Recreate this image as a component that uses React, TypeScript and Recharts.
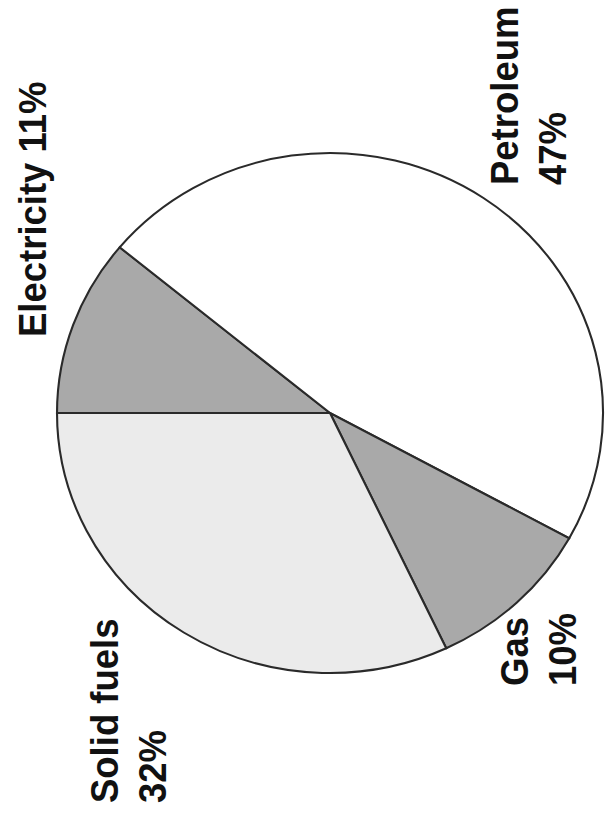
import React from "react";
import { PieChart, Pie, Cell } from "recharts";

// ---- data ----
const categories = ["Electricity", "Petroleum", "Gas", "Solid fuels"];
const shares = [11, 47, 10, 32];
const labelLines = [["Electricity 11%"], ["Petroleum", "47%"], ["Gas", "10%"], ["Solid fuels", "32%"]];

// ---- styles / layout ----
const fills = ["#a9a9a9", "#ffffff", "#a9a9a9", "#ebebeb"];
const SCALE_X = 1.05;
const W = 576;
const H = 815;
const CX = 314.3;
const CY = 413;
const R = 260;
const FONT = 36.5;
const LINE_GAP = 45.7;
// label anchors (baseline x, start y) in chart coordinates
const labelAnchors = [
  { x: 43.8, y: 337 },
  { x: 493.3, y: 185 },
  { x: 502.9, y: 686 },
  { x: 112.4, y: 803 },
];

const data = categories.map((name, i) => ({ name, value: shares[i] }));

const renderLabel = (props: any) => {
  const i = props.index;
  const a = labelAnchors[i];
  const lines = labelLines[i];
  return (
    <text
      key={`lbl-${i}`}
      x={a.x}
      y={a.y}
      transform={`rotate(-90, ${a.x}, ${a.y})`}
      textAnchor="start"
      fontFamily="'Liberation Sans', Arial, sans-serif"
      fontWeight="bold"
      fontSize={FONT}
      fill="#111"
    >
      {lines.map((t, k) => (
        <tspan key={k} x={a.x} dy={k === 0 ? 0 : LINE_GAP}>
          {t}
        </tspan>
      ))}
    </text>
  );
};

export default function App() {
  return (
    <div
      style={{
        position: "absolute",
        left: 0,
        top: 0,
        width: W,
        height: H,
        transform: `scaleX(${SCALE_X})`,
        transformOrigin: "0 0",
        background: "#fff",
      }}
    >
      <PieChart width={W} height={H} margin={{ top: 0, right: 0, bottom: 0, left: 0 }}>
        <Pie
          data={data}
          dataKey="value"
          nameKey="name"
          cx={CX}
          cy={CY}
          outerRadius={R}
          innerRadius={0}
          startAngle={180}
          endAngle={-180}
          stroke="#2a2a2a"
          strokeWidth={2}
          label={renderLabel}
          labelLine={false}
          isAnimationActive={false}
        >
          {data.map((d, i) => (
            <Cell key={d.name} fill={fills[i]} stroke="#2a2a2a" strokeWidth={2} />
          ))}
        </Pie>
      </PieChart>
    </div>
  );
}
